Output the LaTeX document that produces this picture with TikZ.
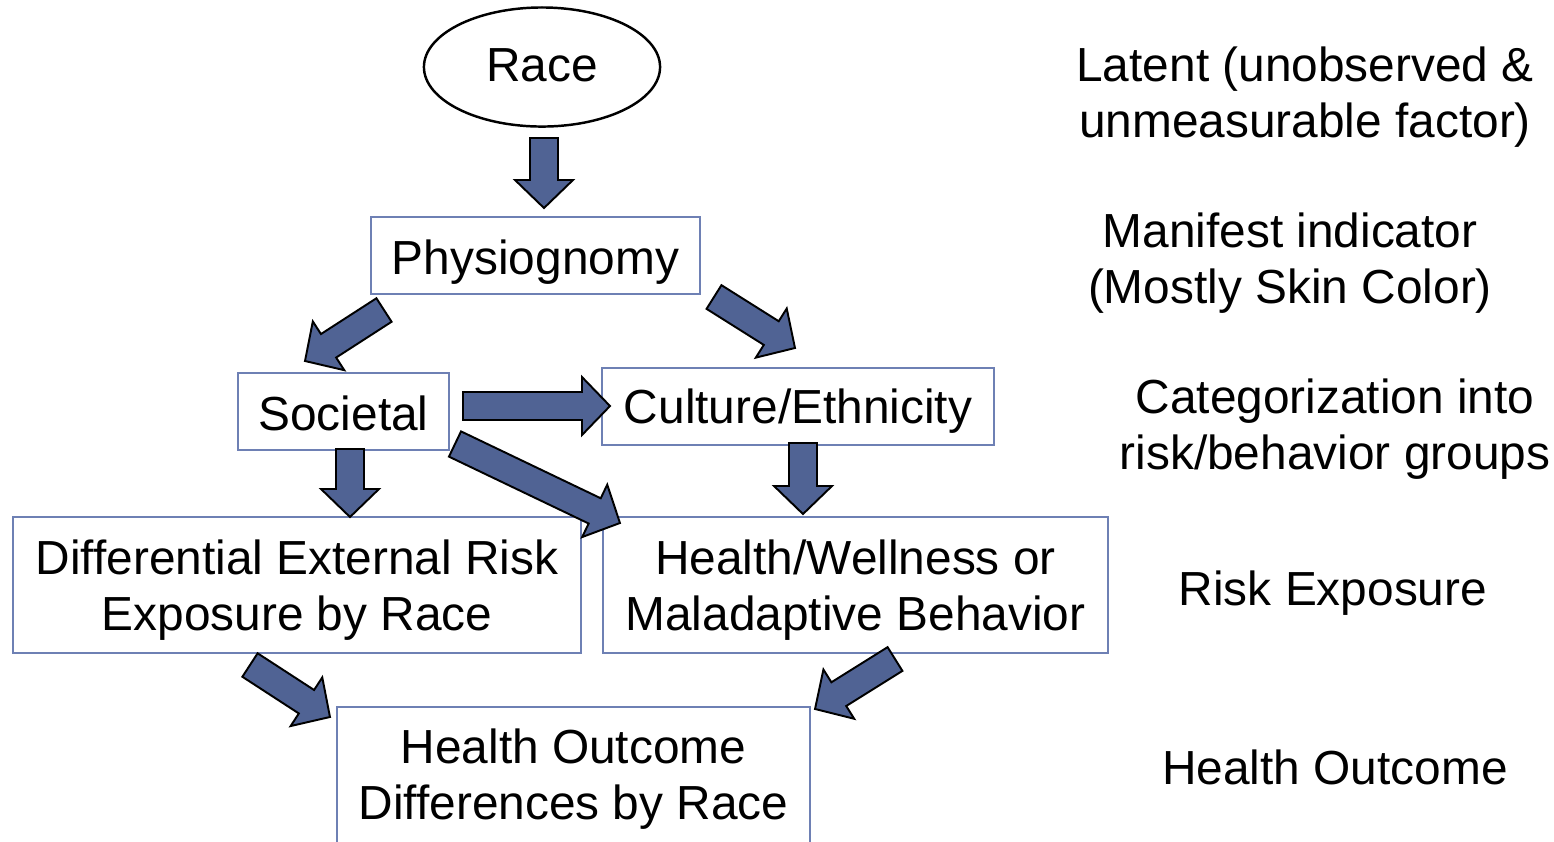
\documentclass[tikz,border=0pt]{standalone}
\usepackage{fontspec}
\setmainfont{Liberation Sans}
\usetikzlibrary{calc,shapes.geometric}

\definecolor{arrowfill}{RGB}{80,99,148}
\definecolor{boxline}{RGB}{110,128,180}

% block arrow geometry: shaft half width, head half width, head length
\def\shaftw{3.98pt}
\def\headw{8.25pt}
\def\headl{7.97pt}

% wide block arrow from #1 (tail centre) to #2 (tip)
\newcommand\blockarrow[2]{%
  \draw[blockarrow] let \p1=(#1), \p2=(#2),
      \n1={atan2(\y2-\y1,\x2-\x1)}, \n2={veclen(\x2-\x1,\y2-\y1)} in
    ([shift={(\p1)},rotate=\n1]0pt,-\shaftw)
    -- ([shift={(\p1)},rotate=\n1]{\n2-\headl},-\shaftw)
    -- ([shift={(\p1)},rotate=\n1]{\n2-\headl},-\headw)
    -- ([shift={(\p1)},rotate=\n1]\n2,0pt)
    -- ([shift={(\p1)},rotate=\n1]{\n2-\headl},\headw)
    -- ([shift={(\p1)},rotate=\n1]{\n2-\headl},\shaftw)
    -- ([shift={(\p1)},rotate=\n1]0pt,\shaftw)
    -- cycle;}

\begin{document}
\begin{tikzpicture}[x=0.01cm,y=-0.01cm,
    every node/.style={font=\fontsize{13.6pt}{15.8pt}\selectfont, align=center, inner sep=0pt},
    box/.style={draw=boxline, line width=0.7pt},
    boxtext/.style={yshift=-#1*0.01cm},
    boxtext/.default=5,
    blockarrow/.style={fill=arrowfill, draw=black, line width=0.55pt, line join=miter},
    sidelabel/.style={}]
  \useasboundingbox (0,0) rectangle (1554,841);

  % diagram nodes
  \node[draw=black, line width=0.7pt, ellipse, minimum width=2.36cm, minimum height=1.19cm,
        label={[yshift=0.02cm]center:Race}] (race) at (542,67) {};
  \node[box, minimum width=3.29cm, minimum height=0.77cm,
        label={[boxtext=7]center:Physiognomy}] (phys) at (535.5,255.5) {};
  \node[box, minimum width=2.11cm, minimum height=0.77cm,
        label={[boxtext=2]center:Societal}] (soc) at (343.5,411.5) {};
  \node[box, minimum width=3.92cm, minimum height=0.77cm,
        label={[boxtext=5]center:Culture/Ethnicity}] (cult) at (798,406.5) {};
  \node[box, minimum width=5.68cm, minimum height=1.36cm,
        label={[boxtext=5]center:Differential External Risk\\Exposure by Race}] (diff) at (297,585) {};
  \node[box, minimum width=5.05cm, minimum height=1.36cm,
        label={[boxtext=5]center:Health/Wellness or\\Maladaptive Behavior}] (hw) at (855.5,585) {};
  \node[box, minimum width=4.73cm, minimum height=1.36cm,
        label={[boxtext=4]center:Health Outcome\\Differences by Race}] (out) at (573.5,775) {};

  % level descriptions
  \node[sidelabel] (l1) at (1305,97) {Latent (unobserved \&\\unmeasurable factor)};
  \node[sidelabel] (l2) at (1290,263) {Manifest indicator\\(Mostly Skin Color)};
  \node[sidelabel] (l3) at (1335,429) {Categorization into\\risk/behavior groups};
  \node[sidelabel] (l4) at (1333,593) {Risk Exposure};
  \node[sidelabel] (l5) at (1335,767) {Health Outcome};

  % arrow tails and tips
  \coordinate (a1s) at (544,138);  \coordinate (a1t) at (544,208);
  \coordinate (a2s) at (384,310);  \coordinate (a2t) at (305,361);
  \coordinate (a3s) at (714,297);  \coordinate (a3t) at (795,348);
  \coordinate (a4s) at (463,406);  \coordinate (a4t) at (610,406);
  \coordinate (a5s) at (455,444);  \coordinate (a5t) at (620,523);
  \coordinate (a6s) at (350,449);  \coordinate (a6t) at (350,517);
  \coordinate (a7s) at (803,443);  \coordinate (a7t) at (803,514);
  \coordinate (a8s) at (250,665);  \coordinate (a8t) at (330,717);
  \coordinate (a9s) at (895,659);  \coordinate (a9t) at (815,709);

  \blockarrow{a1s}{a1t}
  \blockarrow{a2s}{a2t}
  \blockarrow{a3s}{a3t}
  \blockarrow{a4s}{a4t}
  \blockarrow{a5s}{a5t}
  \blockarrow{a6s}{a6t}
  \blockarrow{a7s}{a7t}
  \blockarrow{a8s}{a8t}
  \blockarrow{a9s}{a9t}
\end{tikzpicture}
\end{document}
